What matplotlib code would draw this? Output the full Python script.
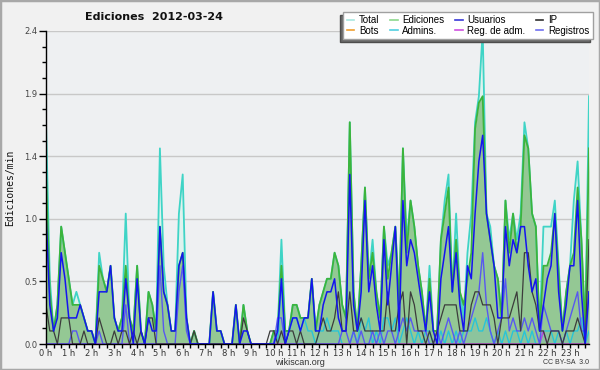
import matplotlib
matplotlib.use('Agg')
import matplotlib.pyplot as plt
from matplotlib.lines import Line2D
from matplotlib.patches import Rectangle
import numpy as np

# ---------------- data (10-minute bins, edits per minute) ----------------
hours = list(range(24))
hour_labels = [f"{h} h" for h in hours]
step_minutes = 10

y_ticks = [0.0, 0.48, 0.96, 1.44, 1.92, 2.4]
y_tick_labels = ["0.0", "0.5", "1.0", "1.4", "1.9", "2.4"]

total = [
    1.7,0.5,0.1,0.3,0.9,0.7, 0.5,0.3,0.4,0.3,0.2,0.1, 0.1,0.0,0.7,0.5,0.4,0.6, 0.2,0.1,0.2,1.0,0.2,0.1,
    0.6,0.1,0.0,0.4,0.3,0.1, 1.5,0.6,0.3,0.1,0.1,1.0, 1.3,0.2,0.0,0.1,0.0,0.0, 0.0,0.0,0.4,0.1,0.1,0.0,
    0.0,0.0,0.3,0.0,0.3,0.1, 0.0,0.0,0.0,0.0,0.0,0.0, 0.1,0.1,0.8,0.1,0.1,0.3, 0.3,0.2,0.2,0.2,0.5,0.1,
    0.3,0.4,0.5,0.5,0.7,0.6, 0.3,0.2,1.7,0.4,0.1,0.6, 1.2,0.5,0.8,0.4,0.2,0.9, 0.6,0.7,0.9,0.3,1.5,0.8,
    1.1,0.9,0.6,0.4,0.1,0.6, 0.1,0.1,0.8,1.1,1.3,0.4, 1.0,0.4,0.2,0.7,1.0,1.7, 1.9,2.4,1.0,0.9,0.6,0.5,
    0.2,1.1,0.8,1.0,0.8,1.0, 1.7,1.5,1.0,0.9,0.1,0.9, 0.9,0.9,1.1,0.6,0.1,0.4, 0.6,1.1,1.4,0.8,0.1,1.9,
]
ediciones = [
    1.3,0.4,0.1,0.3,0.9,0.7, 0.5,0.3,0.3,0.3,0.2,0.1, 0.1,0.0,0.6,0.5,0.4,0.6, 0.2,0.1,0.2,0.6,0.2,0.1,
    0.6,0.1,0.0,0.4,0.3,0.1, 0.9,0.4,0.3,0.1,0.1,0.6, 0.7,0.2,0.0,0.1,0.0,0.0, 0.0,0.0,0.4,0.1,0.1,0.0,
    0.0,0.0,0.3,0.0,0.3,0.1, 0.0,0.0,0.0,0.0,0.0,0.0, 0.1,0.1,0.6,0.1,0.1,0.3, 0.3,0.2,0.2,0.2,0.5,0.1,
    0.3,0.4,0.5,0.5,0.7,0.6, 0.3,0.2,1.7,0.4,0.1,0.6, 1.2,0.5,0.7,0.4,0.2,0.9, 0.5,0.7,0.9,0.3,1.5,0.7,
    1.1,0.9,0.6,0.4,0.1,0.5, 0.1,0.1,0.8,1.0,1.2,0.4, 0.8,0.4,0.3,0.5,0.7,1.65, 1.85,1.9,1.0,0.8,0.6,0.5,
    0.2,1.1,0.7,1.0,0.7,0.9, 1.6,1.5,1.0,0.9,0.1,0.6, 0.6,0.7,1.0,0.55,0.1,0.4, 0.6,0.7,1.2,0.8,0.1,1.5,
]
usuarios = [
    1.0,0.3,0.1,0.2,0.7,0.5, 0.2,0.2,0.2,0.3,0.2,0.1, 0.1,0.0,0.4,0.4,0.4,0.6, 0.2,0.1,0.1,0.5,0.2,0.0,
    0.5,0.1,0.0,0.2,0.1,0.1, 0.9,0.4,0.3,0.1,0.1,0.6, 0.7,0.2,0.0,0.0,0.0,0.0, 0.0,0.0,0.4,0.1,0.1,0.0,
    0.0,0.0,0.3,0.0,0.1,0.1, 0.0,0.0,0.0,0.0,0.0,0.0, 0.0,0.1,0.5,0.0,0.1,0.2, 0.2,0.1,0.2,0.2,0.5,0.1,
    0.1,0.3,0.4,0.4,0.5,0.2, 0.1,0.1,1.3,0.3,0.1,0.4, 1.1,0.4,0.6,0.3,0.1,0.8, 0.3,0.6,0.9,0.1,1.1,0.6,
    0.8,0.7,0.5,0.3,0.1,0.4, 0.1,0.0,0.5,0.7,0.9,0.4, 0.7,0.3,0.1,0.6,0.5,1.0, 1.4,1.6,1.0,0.8,0.6,0.2,
    0.2,0.9,0.6,0.8,0.7,0.9, 0.9,0.6,0.4,0.5,0.1,0.3, 0.5,0.6,1.0,0.4,0.1,0.3, 0.6,0.6,1.1,0.4,0.0,0.4,
]
ip = [
    0.3,0.1,0.1,0.0,0.2,0.2, 0.2,0.0,0.0,0.0,0.1,0.0, 0.0,0.0,0.2,0.1,0.0,0.0, 0.1,0.0,0.1,0.1,0.0,0.1,
    0.0,0.1,0.0,0.2,0.2,0.0, 0.0,0.0,0.0,0.0,0.0,0.0, 0.0,0.0,0.0,0.1,0.0,0.0, 0.0,0.0,0.0,0.0,0.0,0.0,
    0.0,0.0,0.0,0.0,0.2,0.1, 0.0,0.0,0.0,0.0,0.0,0.1, 0.1,0.0,0.1,0.0,0.1,0.1, 0.0,0.1,0.0,0.0,0.0,0.0,
    0.1,0.2,0.1,0.1,0.2,0.4, 0.1,0.1,0.4,0.1,0.1,0.2, 0.1,0.1,0.1,0.1,0.1,0.1, 0.4,0.1,0.1,0.3,0.4,0.0,
    0.4,0.3,0.1,0.1,0.0,0.1, 0.0,0.1,0.2,0.3,0.3,0.3, 0.3,0.1,0.1,0.1,0.3,0.4, 0.4,0.3,0.3,0.3,0.2,0.0,
    0.2,0.2,0.2,0.3,0.4,0.1, 0.7,0.7,0.4,0.3,0.1,0.1, 0.0,0.1,0.1,0.1,0.0,0.1, 0.1,0.1,0.2,0.1,0.0,0.8,
]
admins = [
    0,0,0,0,0,0, 0,0,0,0,0,0, 0,0,0,0,0,0, 0,0,0,0,0,0,
    0,0,0,0,0,0, 0,0,0,0,0,0, 0,0,0,0,0,0, 0,0,0,0,0,0,
    0,0,0,0,0,0, 0,0,0,0,0,0, 0,0,0.5,0,0.1,0.2, 0.2,0.1,0.2,0.1,0.1,0,
    0.1,0.1,0.2,0.1,0.1,0.1, 0,0,0,0.1,0,0.2, 0.1,0.2,0,0.1,0,0.2, 0.2,0.1,0.2,0,0.1,0.2,
    0.1,0,0.1,0,0.1,0.1, 0,0,0.1,0,0.1,0, 0.1,0,0.1,0.1,0.1,0.2, 0.1,0.1,0.2,0.1,0,0.1,
    0,0.1,0,0.1,0.1,0, 0.1,0,0.1,0,0,0.1, 0.1,0.1,0,0.1,0,0.1, 0,0.1,0.1,0.2,0,0.1,
]
registros = [
    0,0,0,0,0,0, 0,0.1,0.1,0,0,0, 0,0,0.1,0,0,0, 0,0,0,0.3,0,0,
    0,0,0,0,0,0, 0.6,0.1,0,0,0,0.4, 0.6,0.1,0,0,0,0, 0,0,0,0,0,0,
    0,0,0,0,0,0, 0,0,0,0,0,0, 0,0.2,0.2,0,0,0, 0,0,0,0,0,0,
    0,0,0,0,0,0, 0.1,0.1,0,0.1,0,0.1, 0,0,0.1,0,0.1,0, 0.1,0.1,0,0.1,0.2,0.1,
    0.2,0.1,0.1,0.1,0.1,0, 0,0.1,0,0.1,0.2,0.1, 0,0.1,0,0.1,0.2,0.3, 0.4,0.7,0.3,0.1,0,0.1,
    0.2,0.5,0.1,0.2,0.1,0.1, 0.2,0.1,0.2,0.1,0,0.3, 0.2,0.1,0.1,0.1,0,0.1, 0.2,0.3,0.4,0.1,0.1,0.4,
]
reg_adm = [
    0,0,0,0,0,0, 0,0,0,0,0,0, 0,0,0,0,0,0, 0,0,0,0,0,0,
    0,0,0,0,0,0, 0,0,0,0,0,0, 0,0,0,0,0,0, 0,0,0,0,0,0,
    0,0,0,0,0,0, 0,0,0,0,0,0, 0,0,0,0,0,0, 0,0,0,0,0,0,
    0,0,0,0,0,0, 0,0,0,0,0,0, 0,0,0,0,0,0, 0,0,0,0,0,0,
    0,0,0,0,0,0, 0,0,0,0,0,0, 0,0,0,0,0,0, 0,0,0,0,0,0,
    0,0,0,0,0,0, 0,0,0,0,0,0.1, 0,0,0,0,0,0, 0,0,0,0,0,0,
]
bots = [
    0,0,0,0,0,0, 0,0,0,0,0,0, 0,0,0,0,0,0, 0,0,0,0,0,0,
    0,0,0,0,0,0, 0,0,0,0,0,0, 0,0,0,0,0,0, 0,0,0,0,0,0,
    0,0,0,0,0,0, 0,0,0,0,0,0, 0,0,0,0,0,0, 0,0,0,0,0,0,
    0,0,0,0,0,0, 0,0,0,0,0,0, 0,0,0,0,0,0, 0,0,0,0,0,0,
    0,0,0,0,0,0, 0,0,0,0,0,0, 0,0,0,0,0,0, 0,0,0,0,0,0,
    0,0,0,0,0,0, 0,0,0,0,0,0, 0,0,0,0,0,0, 0,0,0,0,0,0,
]

legend_labels = ["Total", "Bots", "Ediciones", "Admins.", "Usuarios",
                 "Reg. de adm.", "IP", "Registros"]

# ---------------- styling ----------------
C_TOTAL = '#3fd4c6'
C_TOTAL_FILL = '#def2ee'
C_ED = '#3cb43c'
C_ED_FILL = '#94c894'
C_US = '#1414f0'
C_IP = '#3c3c3c'
C_ADM = '#28c4d8'
C_REG = '#5858f0'
C_REGADM = '#c040e0'
C_BOTS = '#f0a030'

W, H = 600, 370
fig = plt.figure(figsize=(W / 100, H / 100), dpi=100, facecolor='#f1f1f1')
ax = fig.add_axes([46 / W, 1 - 344 / H, (589 - 46) / W, (344 - 31) / H])
ax.set_facecolor('#eef0f2')

x = np.arange(len(total)) * step_minutes / 60.0

ax.fill_between(x, total, color=C_TOTAL_FILL, lw=0, zorder=1)
ax.fill_between(x, ediciones, color=C_ED_FILL, lw=0, zorder=2)
ax.fill_between(x, admins, color='#7fbfb0', alpha=0.35, lw=0, zorder=2.5)
ax.plot(x, total, color=C_TOTAL, lw=1.3, zorder=3)
ax.plot(x, ediciones, color=C_ED, lw=1.3, zorder=4)
ax.plot(x, bots, color=C_BOTS, lw=1.0, zorder=3.5)
ax.plot(x, admins, color=C_ADM, lw=1.0, zorder=5)
ax.plot(x, reg_adm, color=C_REGADM, lw=1.0, zorder=5)
ax.plot(x, registros, color=C_REG, lw=1.0, zorder=6)
ax.plot(x, ip, color=C_IP, lw=0.9, zorder=7)
ax.plot(x, usuarios, color=C_US, lw=1.1, zorder=8)

ax.set_xlim(0, x[-1])
ax.set_ylim(0, 2.4)

ax.set_yticks(y_ticks, labels=y_tick_labels)
ax.set_yticks(np.arange(0, 2.41, 0.12), minor=True)
ax.set_xticks(hours, labels=hour_labels)
ax.set_xticks(np.arange(0, x[-1] + 0.01, 1 / 3), minor=True)

ax.tick_params(axis='y', which='major', length=5, width=1, labelsize=6,
               labelcolor='#444444', pad=1)
ax.tick_params(axis='y', which='minor', length=3, width=1)
ax.tick_params(axis='x', which='both', length=3, width=1, labelsize=6,
               labelcolor='#333333', pad=0.5)

ax.yaxis.grid(True, which='major', color='#c8c8c8', lw=1)
ax.set_axisbelow(True)
for s in ('top', 'right'):
    ax.spines[s].set_visible(False)
for s in ('left', 'bottom'):
    ax.spines[s].set_color('black')
    ax.spines[s].set_linewidth(1)
    ax.spines[s].set_zorder(10)

# legend
handle_colors = ['#a8e8e0', C_BOTS, '#8cd88c', '#50d0e0', '#3838d8',
                 '#d050e0', '#303030', '#7070f0']
handles = [Line2D([0], [0], color=c, lw=1.2) for c in handle_colors]
leg = fig.legend(handles, legend_labels, ncol=4, loc='upper right',
                 bbox_to_anchor=(593 / W, 1 - 12 / H),
                 prop={'family': 'Liberation Sans', 'size': 7},
                 frameon=True, fancybox=False, shadow={'ox': -2, 'oy': -2,
                                                       'facecolor': '#6a6a6a',
                                                       'alpha': 1.0},
                 handlelength=0.8, handletextpad=0.5, columnspacing=1.05,
                 borderpad=0.35, labelspacing=0.05, borderaxespad=0)
leg.get_frame().set_edgecolor('#a0a0a0')
leg.get_frame().set_linewidth(1)
leg.get_frame().set_facecolor('white')
leg.set_zorder(20)

# texts
fig.text(85 / W, 1 - 16.5 / H, 'Ediciones  2012-03-24', ha='left', va='center',
         fontsize=8, fontweight='bold', color='#111111', family='DejaVu Sans')
fig.text(10 / W, 1 - 188 / H, 'Ediciones/min', rotation=90, ha='center',
         va='center', fontsize=7, family='DejaVu Sans Mono', color='#111111')
fig.text(0.5, 1 - 362.5 / H, 'wikiscan.org', ha='center', va='center',
         fontsize=6.5, color='#333333', family='Liberation Sans')
fig.text(589 / W, 1 - 362.5 / H, 'CC BY-SA  3.0', ha='right', va='center',
         fontsize=5, color='#333333', family='Liberation Sans')

fig.patches.append(Rectangle((0, 0), 1, 1, transform=fig.transFigure,
                             fill=False, edgecolor='#a8a8a8', lw=2.5))

fig.savefig('out.png', dpi=100, facecolor=fig.get_facecolor())
